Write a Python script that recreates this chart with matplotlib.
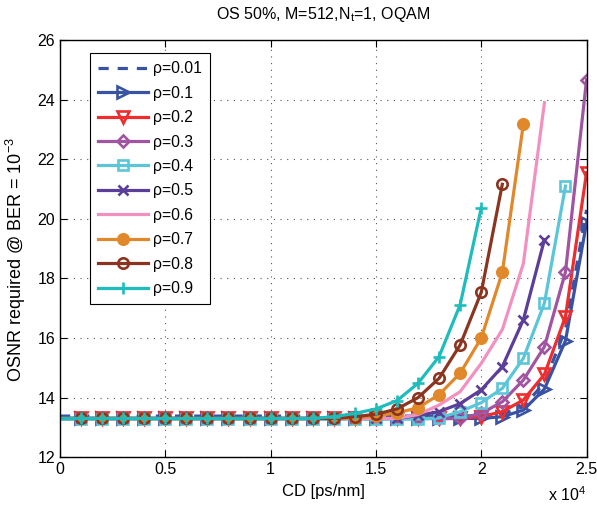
import numpy as np
import matplotlib
matplotlib.use('Agg')
import matplotlib.pyplot as plt
from matplotlib.ticker import FuncFormatter

plt.rcParams['font.family'] = ['Liberation Sans', 'DejaVu Sans']
plt.rcParams['mathtext.fontset'] = 'custom'
plt.rcParams['mathtext.rm'] = 'Liberation Sans'
plt.rcParams['mathtext.it'] = 'Liberation Sans:italic'

# CD grid [ps/nm]
cd = [0, 1000, 2000, 3000, 4000, 5000, 6000, 7000, 8000, 9000, 10000, 11000, 12000,
      13000, 14000, 15000, 16000, 17000, 18000, 19000, 20000, 21000, 22000, 23000,
      24000, 25000]

# required OSNR per roll-off
osnr_001 = [13.38] * 20 + [13.40, 13.45, 13.70, 14.50, 16.30, 20.30]
osnr_01 = [13.30] * 20 + [13.30, 13.36, 13.58, 14.29, 15.91, 19.87]
osnr_02 = [13.30] * 20 + [13.36, 13.53, 13.92, 14.78, 16.72, 21.55]
osnr_03 = [13.30] * 20 + [13.47, 13.86, 14.59, 15.71, 18.22, 24.67]
osnr_04 = [13.28] * 18 + [13.32, 13.53, 13.83, 14.31, 15.32, 17.17, 21.10]
osnr_05 = [13.30] * 17 + [13.40, 13.53, 13.80, 14.26, 15.04, 16.61, 19.30]
osnr_06 = [13.30] * 17 + [13.43, 13.75, 14.20, 15.15, 16.28, 18.50, 23.90]
osnr_07 = [13.30] * 14 + [13.32, 13.38, 13.49, 13.66, 14.10, 14.82, 16.00, 18.20, 23.18]
osnr_08 = [13.30] * 14 + [13.36, 13.44, 13.62, 14.00, 14.65, 15.77, 17.53, 21.16]
osnr_09 = [13.30] * 13 + [13.36, 13.47, 13.62, 13.90, 14.48, 15.38, 17.12, 20.37]

labels = ['ρ=0.01', 'ρ=0.1', 'ρ=0.2', 'ρ=0.3', 'ρ=0.4', 'ρ=0.5', 'ρ=0.6', 'ρ=0.7',
          'ρ=0.8', 'ρ=0.9']
series = [osnr_001, osnr_01, osnr_02, osnr_03, osnr_04, osnr_05, osnr_06, osnr_07,
          osnr_08, osnr_09]
colors = ['#3953a4', '#3953a4', '#ed2d2e', '#a154a1', '#5bc5da', '#5a3e98', '#f290c0',
          '#e0882a', '#8b3520', '#1ebdbd']
markers = [None, '>', 'v', 'D', 's', 'x', None, 'o', 'o', '+']
msizes = [0, 9, 9, 6, 6.5, 6.5, 0, 7.5, 7.5, 9]
faces = ['none', 'none', 'none', 'none', 'none', 'none', 'none', '#e0882a', 'none', 'none']
styles = ['--', '-', '-', '-', '-', '-', '-', '-', '-', '-']

fig = plt.figure(figsize=(5.97, 5.08), dpi=100)
ax = fig.add_axes([0.1005, 0.100, 0.882, 0.821])

for y, lab, c, m, ms, fc, ls in zip(series, labels, colors, markers, msizes, faces, styles):
    x = cd[:len(y)]
    ax.plot(x, y, ls, color=c, lw=2.3, marker=m, markersize=ms,
            markeredgewidth=1.9, markerfacecolor=fc, markevery=slice(1, None),
            label=lab, dashes=(3.2, 2.8) if ls == '--' else (None, None))

ax.set_xlim(0, 25000)
ax.set_ylim(12, 26)
ax.set_xticks([0, 5000, 10000, 15000, 20000, 25000])
ax.set_yticks([12, 14, 16, 18, 20, 22, 24, 26])
ax.xaxis.set_major_formatter(FuncFormatter(lambda v, p: ('%g' % (v / 1e4))))
ax.tick_params(direction='in', top=True, right=True, length=5, labelsize=11.5, width=0.8)
ax.grid(True, linestyle=(0, (1, 5)), color='#555555', lw=0.8)
for s in ax.spines.values():
    s.set_linewidth(1.0)

ax.set_xlabel('CD [ps/nm]', fontsize=12, labelpad=5)
ax.set_ylabel(r'OSNR required @ BER = 10$^{\mathregular{-3}}$', fontsize=13)
ax.yaxis.set_label_coords(-0.06, 0.475)
ax.set_title(r'OS 50%, M=512,N$_{\mathregular{t}}$=1, OQAM', fontsize=11.5, pad=15)
ax.text(1.0, -0.068, r'x 10$^{\mathregular{4}}$', transform=ax.transAxes,
        ha='right', va='top', fontsize=11.5)

leg = ax.legend(loc='upper left', bbox_to_anchor=(0.057, 0.968), fontsize=11.3,
                handlelength=3.2, labelspacing=0.6, borderpad=0.5, borderaxespad=0,
                handletextpad=0.3, fancybox=False, framealpha=1)
leg.get_frame().set_edgecolor('black')
leg.get_frame().set_linewidth(0.8)

fig.savefig('out.png', dpi=100)
